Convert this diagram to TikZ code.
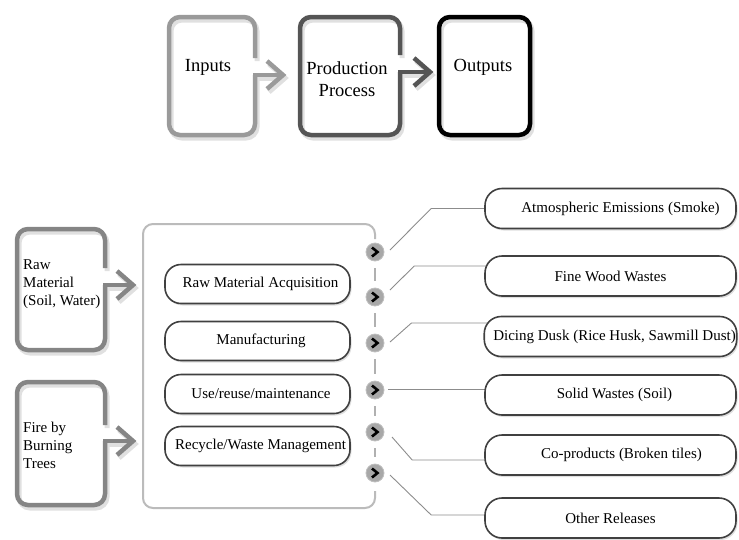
\documentclass[tikz,border=0pt]{standalone}
\usepackage{fontspec}
\setmainfont{Liberation Serif}
\usetikzlibrary{calc,shadows,backgrounds}
\definecolor{frA}{HTML}{9A9A9A}
\definecolor{frB}{HTML}{555555}
\definecolor{frL}{HTML}{858585}
\definecolor{contc}{HTML}{BBBBBB}
\definecolor{dashc}{HTML}{B0B0B0}
\definecolor{connc}{HTML}{8C8C8C}
\definecolor{dotc}{HTML}{A8A8A8}

% #1 style, #2 x1, #3 y1, #4 x2, #5 y2, #6 gap end y, #7 shaft y, #8 tip x
\newcommand{\arrframe}[8]{%
  \draw[#1, rounded corners=11pt] (#4,#6) -- (#4,#3) -- (#2,#3) -- (#2,#5) -- (#4,#5) -- (#4,#7);
  \draw[#1, line cap=rect] (#4,#7) -- (#8-5,#7);
  \draw[#1, line join=miter] (#8-16,#7-14) -- (#8,#7) -- (#8-16,#7+14);
}
\newcommand{\shadowframe}[8]{%
  \begin{scope}[shift={(2,3)}]
    \arrframe{#1}{#2}{#3}{#4}{#5}{#6}{#7}{#8}
  \end{scope}
}

\tikzset{
  lbl/.style={font=\fontsize{15}{18}\selectfont},
  toplbl/.style={font=\fontsize{18.5}{22}\selectfont, align=center, inner sep=0pt},
  frame/.style={line width=4.5pt},
  fshadow/.style={line width=5pt, black!12},
  stage/.style={draw=black!75, line width=1.6pt, fill=white, rounded corners=16pt,
    minimum width=185pt, minimum height=39pt, lbl,
    drop shadow={opacity=0.25, shadow xshift=1.5pt, shadow yshift=-2pt}},
  outbox/.style={draw=black!75, line width=1.6pt, fill=white, rounded corners=17pt,
    minimum width=251pt, minimum height=40pt, lbl, inner sep=1pt,
    drop shadow={opacity=0.25, shadow xshift=1.5pt, shadow yshift=-2pt}},
  dot/.style={circle, fill=dotc, draw=black!25, line width=0.8pt, minimum size=18pt, inner sep=0pt},
  chev/.style={line width=2.6pt, black, line join=miter},
  conn/.style={draw=connc, line width=0.9pt},
  cont/.style={draw=contc, line width=2pt},
  dsh/.style={draw=dashc, line width=2.6pt},
}

\begin{document}
\begin{tikzpicture}[x=1pt, y=-1pt]
\useasboundingbox (0,0) rectangle (739,539);

% ---------- top row ----------
\shadowframe{fshadow}{169}{17}{255}{135}{58}{75}{283}
\shadowframe{fshadow}{300}{17}{400}{135}{55}{72}{430}
\draw[fshadow, rounded corners=11pt] (441,20) rectangle (532,138);
\arrframe{frame, frA}{169}{17}{255}{135}{58}{75}{283}
\arrframe{frame, frB}{300}{17}{400}{135}{55}{72}{430}
\draw[frame, black, rounded corners=11pt] (439,17) rectangle (530,135);

\node[toplbl] (tin) at (208,67) {Inputs};
\node[toplbl] (tpp) at (347,79) {Production\\Process};
\node[toplbl] (tout) at (483,67) {Outputs};

% ---------- left input boxes ----------
\shadowframe{fshadow}{17}{229}{105}{350}{268}{285}{133}
\shadowframe{fshadow}{17}{382}{105}{505}{425}{441}{133}
\arrframe{frame, frL}{17}{229}{105}{350}{268}{285}{133}
\arrframe{frame, frL}{17}{382}{105}{505}{425}{441}{133}

\node[lbl, align=left, anchor=west, inner sep=0pt] (raw) at (23,284) {Raw\\Material\\(Soil, Water)};
\node[lbl, align=left, anchor=west, inner sep=0pt] (fire) at (23,445) {Fire by\\Burning\\Trees};

% ---------- container ----------
\draw[cont, rounded corners=10pt] (375,239) -- (375,224) -- (143,224) -- (143,508) -- (375,508) -- (375,491);

% ---------- stages ----------
\node[stage] (s1) at (257.5,284) {\hspace*{6pt}Raw Material Acquisition};
\node[stage] (s2) at (257.5,341) {\hspace*{7pt}Manufacturing};
\node[stage] (s3) at (257.5,394) {\hspace*{7pt}Use/reuse/maintenance};
\node[stage, inner sep=0pt] (s4) at (257.5,446) {\hspace*{6pt}Recycle/Waste Management};

% ---------- circles ----------
\foreach \i/\y in {1/252,2/297,3/343,4/390,5/432,6/473} {
  \node[dot] (c\i) at (375,\y) {};
  \draw[chev] ($(c\i)+(-3,-4.5)$) -- ($(c\i)+(2.5,0)$) -- ($(c\i)+(-3,4.5)$);
}

% ---------- outputs ----------
\node[outbox] (o1) at (610.5,208.5) {\hspace*{20pt}Atmospheric Emissions (Smoke)};
\node[outbox] (o2) at (610.5,276) {Fine Wood Wastes};
\node[outbox] (o3) at (610.5,336.5) {\hspace*{8pt}Dicing Dusk (Rice Husk, Sawmill Dust)};
\node[outbox] (o4) at (610.5,395) {\hspace*{8pt}Solid Wastes (Soil)};
\node[outbox] (o5) at (610.5,455) {\hspace*{22pt}Co-products (Broken tiles)};
\node[outbox] (o6) at (610.5,518) {Other Releases};

\begin{scope}[on background layer]
  \foreach \a/\b in {1/2,2/3,3/4,4/5,5/6}
    \draw[dsh, shorten <=7pt, shorten >=7pt] (c\a) -- (c\b);
  \draw[conn] ($(c1)+(15,-2)$) -- ($(o1.west)+(-53,0)$) -- ($(o1.west)+(8,0)$);
  \draw[conn] ($(c2)+(15,-7)$) -- ($(o2.west)+(-70,-10)$) -- ($(o2.west)+(8,-10)$);
  \draw[conn] ($(c3)+(15,-1)$) -- ($(o3.west)+(-72,-13.5)$) -- ($(o3.west)+(8,-13.5)$);
  \draw[conn] ($(c4)+(13,-1)$) -- ($(o4.west)+(8,-6)$);
  \draw[conn] ($(c5)+(17,5)$) -- ($(o5.west)+(-72,5)$) -- ($(o5.west)+(8,5)$);
  \draw[conn] ($(c6)+(15,2)$) -- ($(o6.west)+(-53,-3)$) -- ($(o6.west)+(8,-3)$);
\end{scope}
\end{tikzpicture}
\end{document}
